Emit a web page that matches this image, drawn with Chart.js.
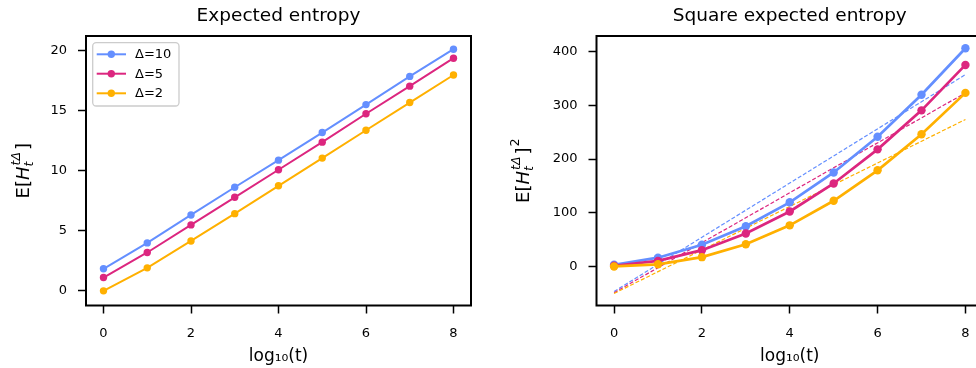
<!DOCTYPE html>
<html>
<head>
<meta charset="utf-8">
<script src="https://cdn.jsdelivr.net/npm/chart.js@4.4.1/dist/chart.umd.min.js"></script>
<style>
  html, body { margin: 0; padding: 0; background: #fff; width: 976px; height: 368px; overflow: hidden; position: relative; }
  canvas { position: absolute; top: 0; }
  #left { left: 0; }
  #right { left: 488px; }
</style>
</head>
<body>
<canvas id="left" width="488" height="368"></canvas>
<canvas id="right" width="500" height="368"></canvas>
<script>
// log10(t) steps
const steps = [0, 1, 2, 3, 4, 5, 6, 7, 8];
const xTicks = [0, 2, 4, 6, 8];
const yTicksEntropy = [0, 5, 10, 15, 20];
const yTicksSquare = [0, 100, 200, 300, 400];

// Expected entropy per window size
const entropyD10 = [1.84, 4.0, 6.33, 8.64, 10.9, 13.2, 15.53, 17.88, 20.15];
const entropyD5  = [1.11, 3.2, 5.5, 7.8, 10.1, 12.4, 14.77, 17.07, 19.4];
const entropyD2  = [0.0, 1.92, 4.16, 6.44, 8.76, 11.07, 13.39, 15.7, 18.0];

// Square expected entropy per window size
const squareD10 = [3.4, 16.5, 40.5, 75, 119.5, 175, 241.5, 319.5, 406];
const squareD5  = [1.5, 10.5, 30.5, 61.5, 102.5, 154.5, 218, 290.5, 375];
const squareD2  = [0.2, 4.2, 17.5, 41.5, 76.7, 122.4, 179, 246, 323];

// Linear fits of the squared series: value at log10(t)=0 and at log10(t)=8
const fitX   = [0, 8];
const fitD10 = [-46.4, 357];
const fitD5  = [-48.5, 323];
const fitD2  = [-50, 273.5];

const legendLabels = ['Δ=10', 'Δ=5', 'Δ=2'];
const colors = ['#648FFF', '#DC267F', '#FFB000'];

const FONT = '"DejaVu Sans", "Liberation Sans", sans-serif';

function pts(xs, ys) { return xs.map((x, i) => ({ x: x, y: ys[i] })); }

function solid(label, ys, color, lw, r, order) {
  return {
    label: label, data: pts(steps, ys), borderColor: color, backgroundColor: color,
    borderWidth: lw, pointRadius: r, pointBackgroundColor: color, pointBorderWidth: 0,
    pointHoverRadius: r, fill: false, tension: 0, order: order
  };
}
function dashed(ys, color, order) {
  return {
    label: '', data: pts(fitX, ys), borderColor: color, borderWidth: 1.2,
    borderDash: [4, 2], pointRadius: 0, fill: false, tension: 0, order: order
  };
}

// E[H_t^{tΔ}] (optionally squared), drawn rotated along the y axis
function drawYLabel(ctx, cx, cy, squared) {
  ctx.save();
  ctx.translate(cx, cy);
  ctx.rotate(-Math.PI / 2);
  ctx.fillStyle = '#000';
  ctx.textBaseline = 'alphabetic';
  ctx.textAlign = 'left';
  const big = '18px ' + FONT, bigIt = 'italic 18px ' + FONT;
  const smIt = 'italic 12.5px ' + FONT, sm = '12.5px ' + FONT;
  ctx.font = big; const wE = ctx.measureText('E[').width; const wB = ctx.measureText(']').width;
  ctx.font = bigIt; const wH = ctx.measureText('H').width;
  ctx.font = smIt; const wSup = ctx.measureText('tΔ').width; const wSub = ctx.measureText('t').width;
  ctx.font = sm; const wSq = ctx.measureText('2').width;
  const wScr = Math.max(wSup, wSub);
  const total = wE + wH + 1 + wScr + 2 + wB + (squared ? wSq + 1 : 0);
  let x = -total / 2;
  const base = 6.5;
  ctx.font = big; ctx.fillText('E[', x, base); x += wE;
  ctx.font = bigIt; ctx.fillText('H', x, base); x += wH + 1;
  ctx.font = smIt; ctx.fillText('tΔ', x, base - 9); ctx.fillText('t', x - 1, base + 4.5); x += wScr + 2;
  ctx.font = big; ctx.fillText(']', x, base); x += wB + 1;
  if (squared) { ctx.font = sm; ctx.fillText('2', x, base - 9.5); }
  ctx.restore();
}

function makeDecor(opts) {
  return {
    id: 'decor_' + opts.name,
    afterDatasetsDraw(chart) {
      const ctx = chart.ctx, a = chart.chartArea;
      ctx.save();
      ctx.strokeStyle = '#000';
      ctx.lineWidth = 2;
      ctx.strokeRect(a.left, a.top, a.right - a.left, a.bottom - a.top);
      ctx.restore();
    },
    afterDraw(chart) {
      const ctx = chart.ctx, a = chart.chartArea;
      const cx = (a.left + a.right) / 2;
      ctx.save();
      ctx.fillStyle = '#000';
      ctx.textAlign = 'center';
      ctx.textBaseline = 'alphabetic';
      ctx.font = '18.5px ' + FONT;
      ctx.fillText(opts.title, cx, 21);
      ctx.font = '17px ' + FONT;
      ctx.fillText('log₁₀(t)', cx, 361);
      ctx.restore();
      drawYLabel(ctx, opts.yLabelX, (a.top + a.bottom) / 2, opts.squared);
      if (opts.legend) {
        ctx.save();
        const bx = 92.7, by = 42.7, bw = 86.3, bh = 63.3, r = 3.5;
        ctx.beginPath();
        ctx.moveTo(bx + r, by);
        ctx.arcTo(bx + bw, by, bx + bw, by + bh, r);
        ctx.arcTo(bx + bw, by + bh, bx, by + bh, r);
        ctx.arcTo(bx, by + bh, bx, by, r);
        ctx.arcTo(bx, by, bx + bw, by, r);
        ctx.closePath();
        ctx.fillStyle = 'rgba(255,255,255,0.8)';
        ctx.fill();
        ctx.strokeStyle = '#cccccc';
        ctx.lineWidth = 1.3;
        ctx.stroke();
        const rows = [54.3, 73.7, 93.3];
        legendLabels.forEach((lab, i) => {
          const y = rows[i];
          ctx.strokeStyle = colors[i];
          ctx.lineWidth = 2;
          ctx.beginPath(); ctx.moveTo(96.7, y); ctx.lineTo(126, y); ctx.stroke();
          ctx.fillStyle = colors[i];
          ctx.beginPath(); ctx.arc(111.3, y, 3.7, 0, Math.PI * 2); ctx.fill();
          ctx.fillStyle = '#000';
          ctx.font = '13px ' + FONT;
          ctx.textAlign = 'left';
          ctx.textBaseline = 'middle';
          ctx.fillText(lab, 135, y + 0.5);
        });
        ctx.restore();
      }
    }
  };
}

function axes(xMin, xMax, yMin, yMax, yTicks, yWidth) {
  const tickFont = { family: FONT, size: 13 };
  const grid = { display: true, drawOnChartArea: false, drawTicks: true, tickLength: 8, tickWidth: 1.5, tickColor: '#000' };
  return {
    x: {
      type: 'linear', min: xMin, max: xMax,
      grid: grid, border: { display: false },
      afterBuildTicks: s => { s.ticks = xTicks.map(v => ({ value: v })); },
      ticks: { font: tickFont, color: '#000', padding: 12, maxRotation: 0, includeBounds: false },
      afterFit: s => { s.height = 62.5; }
    },
    y: {
      type: 'linear', min: yMin, max: yMax,
      grid: grid, border: { display: false },
      afterBuildTicks: s => { s.ticks = yTicks.map(v => ({ value: v })); },
      ticks: { font: tickFont, color: '#000', padding: 11, includeBounds: false },
      afterFit: s => { s.width = yWidth; }
    }
  };
}

new Chart(document.getElementById('left'), {
  type: 'line',
  data: {
    datasets: [
      solid(legendLabels[0], entropyD10, colors[0], 2, 3.7, 3),
      solid(legendLabels[1], entropyD5, colors[1], 2, 3.7, 2),
      solid(legendLabels[2], entropyD2, colors[2], 2, 3.7, 1)
    ]
  },
  options: {
    responsive: false, animation: false, events: [],
    layout: { padding: { top: 36, right: 17, bottom: 0, left: 0 } },
    plugins: { legend: { display: false }, tooltip: { enabled: false }, title: { display: false } },
    scales: axes(-0.4, 8.4, -1.22, 21.25, yTicksEntropy, 86)
  },
  plugins: [makeDecor({ name: 'left', yLabelX: 22, squared: false, legend: true, title: 'Expected entropy' })]
});

new Chart(document.getElementById('right'), {
  type: 'line',
  data: {
    datasets: [
      dashed(fitD10, colors[0], 6),
      dashed(fitD5, colors[1], 5),
      dashed(fitD2, colors[2], 4),
      solid(legendLabels[0], squareD10, colors[0], 2.7, 4.2, 3),
      solid(legendLabels[1], squareD5, colors[1], 2.7, 4.2, 2),
      solid(legendLabels[2], squareD2, colors[2], 2.7, 4.2, 1)
    ]
  },
  options: {
    responsive: false, animation: false, events: [],
    layout: { padding: { top: 36, right: 5, bottom: 0, left: 0 } },
    plugins: { legend: { display: false }, tooltip: { enabled: false }, title: { display: false } },
    scales: axes(-0.4, 8.4, -72.4, 428.8, yTicksSquare, 108.5)
  },
  plugins: [makeDecor({ name: 'right', yLabelX: 34, squared: true, legend: false, title: 'Square expected entropy' })]
});
</script>
</body>
</html>
